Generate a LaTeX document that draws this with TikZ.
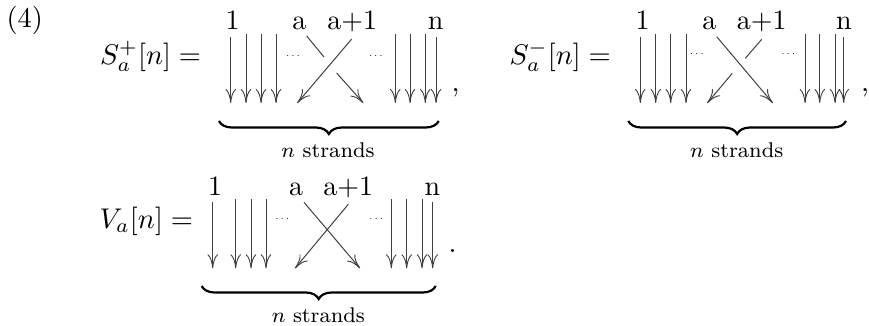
\documentclass[tikz,border=0pt]{standalone}
\usepackage{amsmath}
\usetikzlibrary{arrows.meta,decorations.pathreplacing}
\tikzset{
 x=1pt,y=-1pt,
 strand/.style={line width=1pt,black!75,-{Computer Modern Rightarrow[length=14pt,width=10.5pt,line width=0.9pt]}},
 plainstrand/.style={line width=1pt,black!75},
 lab/.style={inner sep=0pt,scale=2.8,transform shape},
 eq/.style={inner sep=0pt,anchor=base west,scale=2.85,transform shape},
 small/.style={inner sep=0pt,anchor=base,scale=2.66,transform shape,font=\footnotesize},
 bracelt/.style={line width=2.2pt,decorate,decoration={brace,mirror,amplitude=13pt,aspect=0.5}},
 dotsl/.style={inner sep=0pt,scale=1.4,transform shape,font=\scriptsize},
}
\newcommand{\vstrand}[4]{% name, x, ytop, ybot
 \coordinate (#1t) at (#2,#3); \coordinate (#1b) at (#2,#4);
 \draw[strand] (#1t) -- (#1b);}
\newcommand{\lbl}[4]{\node[lab,anchor=base] (#1) at (#2,#3) {#4};}
\begin{document}
\begin{tikzpicture}
\useasboundingbox (0,0) rectangle (869,325);
\node[eq] (num) at (6,27) {(4)};

% first
\node[eq] (eqA) at (99.5,64) {$S_a^+[n]=$};
\lbl{a1}{232.7}{29}{1}\lbl{a2}{299.3}{29}{a}\lbl{a3}{352.3}{29}{a+1}\lbl{a4}{435.7}{29}{n}
\vstrand{aa}{230.7}{37}{103}\vstrand{ab}{246}{34}{103}\vstrand{ac}{261}{34}{103}\vstrand{ad}{276}{34}{103}
\vstrand{ae}{395.3}{34}{103}\vstrand{af}{410}{34}{103}\vstrand{ag}{425.3}{34}{103}\vstrand{ah}{436}{37}{103}
\node[dotsl] (ad1) at (294,56) {$\cdots$};
\node[dotsl] (ad2) at (376.7,56) {$\cdots$};
\coordinate (ax1) at (306.7,36);\coordinate (ax2) at (324,57);\coordinate (ax3) at (336.7,73);\coordinate (ax4) at (363.3,103);
\coordinate (ay1) at (351.7,39);\coordinate (ay2) at (297.3,103);
\draw[plainstrand] (ax1) -- (ax2);
\draw[strand] (ax3) -- (ax4);
\draw[strand] (ay1) -- (ay2);
\coordinate (abl) at (219,121);\coordinate (abr) at (438.7,121);
\draw[bracelt] (abl) -- (abr);
\node[small] (at) at (328,157) {$n$ strands};
\node[eq] (ac1) at (451,91) {,};

% second
\node[eq] (eqB) at (509,64) {$S_a^-[n]=$};
\lbl{b1}{642.7}{29}{1}\lbl{b2}{709.3}{29}{a}\lbl{b3}{761.7}{29}{a+1}\lbl{b4}{844}{29}{n}
\vstrand{ba}{640.3}{37}{103}\vstrand{bb}{655.7}{34}{103}\vstrand{bc}{670.7}{34}{103}\vstrand{bd}{686}{34}{103}
\vstrand{be}{805}{34}{103}\vstrand{bf}{819.7}{34}{103}\vstrand{bg}{835}{34}{103}\vstrand{bh}{843.7}{37}{103}
\node[dotsl] (bd1) at (697.7,54.5) {$\cdots$};
\node[dotsl] (bd2) at (789.3,54.5) {$\cdots$};
\coordinate (bx1) at (716.7,36.7);\coordinate (bx2) at (772.7,103);
\coordinate (by1) at (761.7,39.3);\coordinate (by2) at (745.3,58.3);\coordinate (by3) at (732.3,73.3);\coordinate (by4) at (707.3,103);
\draw[strand] (bx1) -- (bx2);
\draw[plainstrand] (by1) -- (by2);
\draw[strand] (by3) -- (by4);
\coordinate (bbl) at (628.3,121);\coordinate (bbr) at (846,121);
\draw[bracelt] (bbl) -- (bbr);
\node[small] (bt) at (736.7,157) {$n$ strands};
\node[eq] (bc1) at (860.5,91) {,};

% third
\node[eq] (eqC) at (99,228.5) {$V_a[n]=$};
\lbl{c1}{215}{195.7}{1}\lbl{c2}{296}{195.7}{a}\lbl{c3}{348.3}{195.7}{a+1}\lbl{c4}{432.3}{195.7}{n}
\vstrand{ca}{212.7}{201.7}{268.3}\vstrand{cb}{235.7}{199}{268.3}\vstrand{cc}{251}{199}{268.3}\vstrand{cd}{266}{199}{268.3}
\vstrand{ce}{391.3}{199}{268.3}\vstrand{cf}{406.7}{199}{268.3}\vstrand{cg}{422}{199}{268.3}\vstrand{ch}{432.7}{202}{268.3}
\node[dotsl] (cd1) at (283.3,219.5) {$\cdots$};
\node[dotsl] (cd2) at (377.3,219.5) {$\cdots$};
\coordinate (cx1) at (304,202.3);\coordinate (cx2) at (360,268.3);
\coordinate (cy1) at (348.3,204.3);\coordinate (cy2) at (295,268.3);
\draw[strand] (cx1) -- (cx2);
\draw[strand] (cy1) -- (cy2);
\coordinate (cbl) at (201.7,286);\coordinate (cbr) at (435.7,286);
\draw[bracelt] (cbl) -- (cbr);
\node[small] (ct) at (318.3,322) {$n$ strands};
\node[eq] (cc1) at (448,252.3) {.};
\end{tikzpicture}
\end{document}
